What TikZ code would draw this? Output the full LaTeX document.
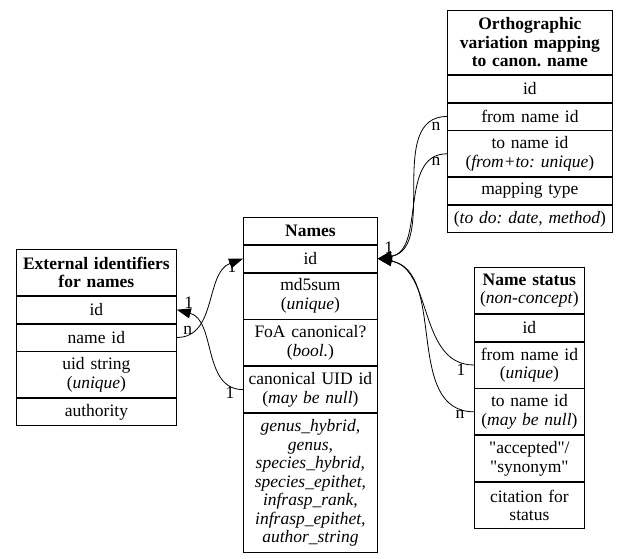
\documentclass[tikz,border=0pt]{standalone}
\usepackage{fontspec}
\setmainfont{Liberation Serif}[Ligatures=TeXOff]
\usepackage{tikz}
\usetikzlibrary{arrows.meta,positioning}
\frenchspacing
\newcommand{\cellfont}{\fontsize{17.5pt}{18.5pt}\selectfont}
\tikzset{
  cell/.style={rectangle, draw=black, line width=0.8pt, align=center, inner xsep=2pt, inner ysep=0pt,
               font=\cellfont, minimum height=27pt},
  tall/.style={minimum height=46pt},
  hdr/.style={font=\cellfont\bfseries},
  ext/.style={cell, text width=156pt},
  names/.style={cell, text width=130pt},
  ortho/.style={cell, text width=161pt},
  status/.style={cell, text width=106pt},
  card/.style={font=\cellfont, inner sep=0pt},
  link/.style={-{Triangle[length=14pt,width=10pt]}, draw=black, line width=0.8pt},
}

\begin{document}
\begin{tikzpicture}[x=1pt, y=1pt]
\path[use as bounding box, fill=white] (0,0) rectangle (627,559);
% external identifiers
\node[ext, hdr, tall, anchor=north west] (ext-head) at (16,310) {External identifiers\\for names};
\node[ext, below=0pt of ext-head] (ext-id) {id};
\node[ext, below=0pt of ext-id] (ext-nameid) {name id};
\node[ext, tall, below=0pt of ext-nameid] (ext-uid) {uid string\\(\textit{unique})};
\node[ext, below=0pt of ext-uid] (ext-auth) {authority};
% names
\node[names, hdr, anchor=north west] (nm-head) at (243,342) {Names};
\node[names, below=0pt of nm-head] (nm-id) {id};
\node[names, tall, below=0pt of nm-id] (nm-md5) {md5sum\\(\textit{unique})};
\node[names, tall, below=0pt of nm-md5] (nm-foa) {FoA canonical?\\(\textit{bool.})};
\node[names, tall, below=0pt of nm-foa] (nm-canon) {canonical UID id\\(\textit{may be null})};
\node[names, minimum height=139pt, below=0pt of nm-canon, font=\cellfont\itshape] (nm-parts)
 {genus\_hybrid,\\genus,\\species\_hybrid,\\species\_epithet,\\infrasp\_rank,\\infrasp\_epithet,\\author\_string};
% orthographic variants
\node[ortho, hdr, minimum height=64pt, anchor=north west] (ortho-head) at (447,549)
 {Orthographic\\variation mapping\\to canon. name};
\node[ortho, below=0pt of ortho-head] (ortho-id) {id};
\node[ortho, below=0pt of ortho-id] (ortho-from) {from name id};
\node[ortho, tall, below=0pt of ortho-from] (ortho-to) {to name id\\(\textit{from+to: unique})};
\node[ortho, below=0pt of ortho-to] (ortho-map) {mapping type};
\node[ortho, below=0pt of ortho-map] (ortho-todo) {(\textit{to do: date, method})};
% name status
\node[status, tall, anchor=north west] (st-head) at (474,292) {\textbf{Name status}\\(\textit{non-concept})};
\node[status, below=0pt of st-head] (st-id) {id};
\node[status, tall, below=0pt of st-id] (st-from) {from name id\\(\textit{unique})};
\node[status, tall, below=0pt of st-from] (st-to) {to name id\\(\textit{may be null})};
\node[status, tall, below=0pt of st-to] (st-acc) {"accepted"/\\"synonym"};
\node[status, tall, below=0pt of st-acc] (st-cit) {citation for\\status};
% links
\draw[link] (ext-nameid.east) to[out=0, in=200]
  node[card, at start, xshift=11pt, yshift=7pt] {n} node[card, at end, xshift=-11pt, yshift=-8pt] {1} (nm-id.west);
\draw[link] (nm-canon.west) to[out=180, in=-15]
  node[card, at start, xshift=-13pt, yshift=-3pt] {1} node[card, at end, xshift=12pt, yshift=7pt] {1} (ext-id.east);
\draw[link] (ortho-from.west) to[out=180, in=10]
  node[card, at start, xshift=-11pt, yshift=-10pt] {n} node[card, at end, xshift=11pt, yshift=11pt] {1} (nm-id.east);
\draw[link] (ortho-to.west) to[out=180, in=10]
  node[card, at start, xshift=-11pt, yshift=-8pt] {n} (nm-id.east);
\draw[link] (st-from.west) to[out=180, in=-10]
  node[card, at start, xshift=-13pt, yshift=-5pt] {1} (nm-id.east);
\draw[link] (st-to.west) to[out=180, in=-10]
  node[card, at start, xshift=-14pt, yshift=-3pt] {n} (nm-id.east);
\end{tikzpicture}
\end{document}
